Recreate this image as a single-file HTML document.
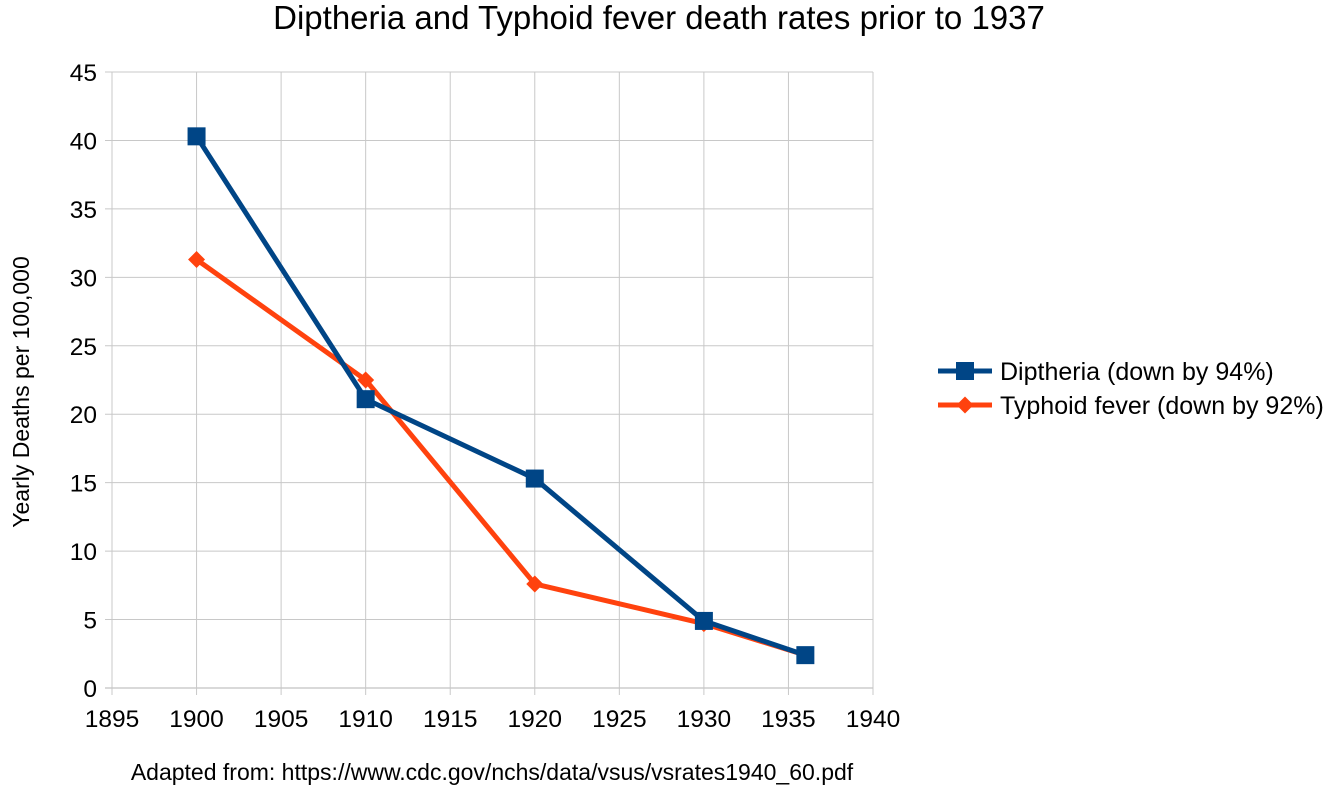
<!DOCTYPE html>
<html><head><meta charset="utf-8"><style>
body{margin:0;background:#fff;}
svg{display:block;font-family:"Liberation Sans",sans-serif;}
</style></head><body>
<svg id="chart" width="1327" height="792">
<text x="659" y="29" text-anchor="middle" font-size="33">Diptheria and Typhoid fever death rates prior to 1937</text>
<text transform="translate(29,392) rotate(-90)" text-anchor="middle" font-size="23">Yearly Deaths per 100,000</text>
<text x="492" y="780" text-anchor="middle" font-size="23">Adapted from: https://www.cdc.gov/nchs/data/vsus/vsrates1940_60.pdf</text>
<g id="grid"></g><g id="series"></g>
<g>
<line x1="938" y1="371" x2="992" y2="371" stroke="#004586" stroke-width="5"/>
<rect x="956" y="362" width="18" height="18" fill="#004586"/>
<text x="1000" y="380" font-size="25">Diptheria (down by 94%)</text>
<line x1="938" y1="405" x2="992" y2="405" stroke="#ff420e" stroke-width="5"/>
<rect x="959" y="399" width="12" height="12" fill="#ff420e" transform="rotate(45 965 405)"/>
<text x="1000" y="414" font-size="25">Typhoid fever (down by 92%)</text>
</g>
</svg>
<script>
const xTicks=[1895,1900,1905,1910,1915,1920,1925,1930,1935,1940];
const yTicks=[0,5,10,15,20,25,30,35,40,45];
const years=[1900,1910,1920,1930,1936];
const diptheria=[40.3,21.1,15.3,4.9,2.4];
const typhoid=[31.3,22.5,7.6,4.7,2.4];
const X=v=>112+(v-1895)*(873-112)/45;
const Y=v=>688-v*(688-72)/45;
const NS="http://www.w3.org/2000/svg";
const grid=document.getElementById('grid'),ser=document.getElementById('series');
function mk(tag,attrs,parent){const e=document.createElementNS(NS,tag);for(const k in attrs)e.setAttribute(k,attrs[k]);parent.appendChild(e);return e;}
yTicks.forEach(t=>{
 const l=mk('line',{x1:105,x2:873,y1:Y(t),y2:Y(t),stroke:t===0?'#b3b3b3':'#c8c8c8','stroke-width':1},grid);
 
 
 const tx=mk('text',{x:97,y:Y(t)+9,'text-anchor':'end','font-size':24.5},grid);tx.textContent=t;
 
 
});
xTicks.forEach(t=>{
 const l=mk('line',{x1:X(t),x2:X(t),y1:72,y2:695,stroke:'#c8c8c8','stroke-width':1},grid);
 
 
 const tx=mk('text',{x:X(t),y:727,'text-anchor':'middle','font-size':24.5},grid);tx.textContent=t;
 
 
});
function draw(vals,color,name,square){
 const p=mk('polyline',{points:years.map((y,i)=>X(y)+','+Y(vals[i])).join(' '),fill:'none',stroke:color,'stroke-width':5,'stroke-linejoin':'round'},ser);
 
 
 years.forEach((y,i)=>{
  const cx=X(y),cy=Y(vals[i]);
  const m=square?mk('rect',{x:cx-9,y:cy-9,width:18,height:18,fill:color},ser):mk('rect',{x:cx-6,y:cy-6,width:12,height:12,fill:color,transform:`rotate(45 ${cx} ${cy})`},ser);
  
  
 });
}
draw(typhoid,'#ff420e','typhoid',false);
draw(diptheria,'#004586','diptheria',true);
</script>
</body></html>
